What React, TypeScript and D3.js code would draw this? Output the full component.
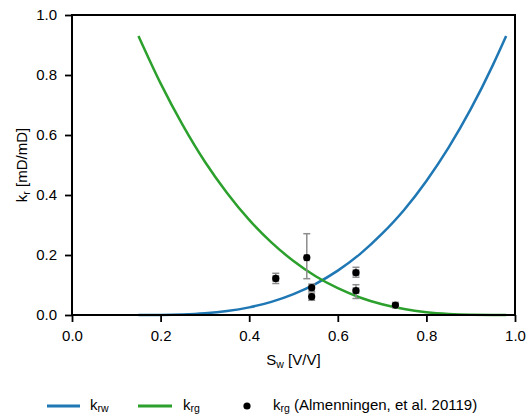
import React, { useRef, useEffect } from "react";
import * as d3 from "d3";

// curve samples
const swGrid = [0.15, 0.2, 0.25, 0.3, 0.35, 0.4, 0.45, 0.5, 0.55, 0.6, 0.65, 0.7, 0.75, 0.8, 0.85, 0.9, 0.95, 0.98];
const krwValues = [0, 0.0002, 0.0016, 0.0055, 0.013, 0.0254, 0.0439, 0.0697, 0.104, 0.148, 0.203, 0.271, 0.351, 0.447, 0.558, 0.686, 0.833, 0.93];
const krgValues = [0.93, 0.772, 0.633, 0.511, 0.407, 0.317, 0.242, 0.18, 0.129, 0.0892, 0.0585, 0.0357, 0.0198, 0.0095, 0.0036, 0.0008, 0.0001, 0];

// measured points (Almenningen)
const expSw = [0.46, 0.53, 0.541, 0.541, 0.641, 0.641, 0.73];
const expKrg = [0.122, 0.191, 0.091, 0.061, 0.141, 0.081, 0.033];
const expErrLow = [0.017, 0.07, 0.012, 0.012, 0.015, 0.026, 0.005];
const expErrHigh = [0.017, 0.08, 0.012, 0.012, 0.018, 0.02, 0.005];
const expSwErr = [0.006, 0.005, 0.005, 0.005, 0.006, 0.006, 0.006];

const ticks = [0, 0.2, 0.4, 0.6, 0.8, 1.0];

const App = () => {
  const svgRef = useRef<SVGSVGElement>(null);

  useEffect(() => {
    const width = 531;
    const height = 415;
    const margin = { top: 15, right: 16, bottom: 100, left: 72 };
    const font = "'Liberation Sans', Arial, sans-serif";
    const fs = 15;
    const subFs = 10.5;

    const svg = d3.select(svgRef.current).attr("width", width).attr("height", height);
    svg.selectAll("*").remove();

    const x = d3.scaleLinear().domain([0, 1]).range([margin.left, width - margin.right]);
    const y = d3.scaleLinear().domain([0, 1]).range([height - margin.bottom, margin.top]);

    // curves
    const line = d3
      .line<number>()
      .x((_, i) => x(swGrid[i]))
      .curve(d3.curveMonotoneX);

    svg
      .append("path")
      .attr("fill", "none")
      .attr("stroke", "#1f77b4")
      .attr("stroke-width", 2.5)
      .attr("d", line.y((d) => y(d))(krwValues));

    svg
      .append("path")
      .attr("fill", "none")
      .attr("stroke", "#2ca02c")
      .attr("stroke-width", 2.5)
      .attr("d", line.y((d) => y(d))(krgValues));

    // error bars
    const errColor = "#8c8c8c";
    const cap = 3.5;
    const eb = svg.append("g").attr("stroke", errColor).attr("stroke-width", 1.5);
    expSw.forEach((sw, i) => {
      const cx = x(sw);
      const cy = y(expKrg[i]);
      const y0 = y(expKrg[i] - expErrLow[i]);
      const y1 = y(expKrg[i] + expErrHigh[i]);
      const x0 = x(sw - expSwErr[i]);
      const x1 = x(sw + expSwErr[i]);
      eb.append("line").attr("x1", cx).attr("x2", cx).attr("y1", y0).attr("y2", y1);
      eb.append("line").attr("x1", cx - cap).attr("x2", cx + cap).attr("y1", y0).attr("y2", y0);
      eb.append("line").attr("x1", cx - cap).attr("x2", cx + cap).attr("y1", y1).attr("y2", y1);
      eb.append("line").attr("x1", x0).attr("x2", x1).attr("y1", cy).attr("y2", cy);
      eb.append("line").attr("x1", x0).attr("x2", x0).attr("y1", cy - cap).attr("y2", cy + cap);
      eb.append("line").attr("x1", x1).attr("x2", x1).attr("y1", cy - cap).attr("y2", cy + cap);
    });

    svg
      .append("g")
      .selectAll("circle")
      .data(expSw)
      .enter()
      .append("circle")
      .attr("cx", (d) => x(d))
      .attr("cy", (_, i) => y(expKrg[i]))
      .attr("r", 3.6)
      .attr("fill", "#000");

    // axes
    const xAxis = svg
      .append("g")
      .attr("transform", `translate(0,${height - margin.bottom})`)
      .call(d3.axisBottom(x).tickValues(ticks).tickFormat(d3.format(".1f")).tickSizeOuter(0).tickSize(7).tickPadding(8));
    const yAxis = svg
      .append("g")
      .attr("transform", `translate(${margin.left},0)`)
      .call(d3.axisLeft(y).tickValues(ticks).tickFormat(d3.format(".1f")).tickSizeOuter(0).tickSize(7).tickPadding(8));
    [xAxis, yAxis].forEach((a) => {
      a.select(".domain").remove();
      a.selectAll("line").attr("stroke", "#000").attr("stroke-width", 1.8);
      a.selectAll("text").attr("font-family", font).attr("font-size", fs).attr("fill", "#000");
    });

    svg
      .append("rect")
      .attr("x", x(0))
      .attr("y", y(1))
      .attr("width", x(1) - x(0))
      .attr("height", y(0) - y(1))
      .attr("fill", "none")
      .attr("stroke", "#000")
      .attr("stroke-width", 2);

    // axis labels
    const xl = svg
      .append("text")
      .attr("x", (x(0) + x(1)) / 2)
      .attr("y", 365)
      .attr("text-anchor", "middle")
      .attr("font-family", font)
      .attr("font-size", fs);
    xl.append("tspan").text("S");
    xl.append("tspan").attr("font-size", subFs).attr("dy", 3).text("w");
    xl.append("tspan").attr("dy", -3).text(" [V/V]");

    const yl = svg
      .append("text")
      .attr("transform", `translate(27,${(y(0) + y(1)) / 2}) rotate(-90)`)
      .attr("text-anchor", "middle")
      .attr("font-family", font)
      .attr("font-size", fs);
    yl.append("tspan").text("k");
    yl.append("tspan").attr("font-size", subFs).attr("dy", 3).text("r");
    yl.append("tspan").attr("dy", -3).text(" [mD/mD]");

    // legend
    const ly = 406;
    const legend = svg.append("g").attr("font-family", font).attr("font-size", fs);
    const addLabel = (lx: number, sub: string, rest: string) => {
      const t = legend.append("text").attr("x", lx).attr("y", ly + 4);
      t.append("tspan").text("k");
      t.append("tspan").attr("font-size", subFs).attr("dy", 2).text(sub);
      if (rest) t.append("tspan").attr("dy", -2).text(rest);
    };
    legend.append("line").attr("x1", 47).attr("x2", 80).attr("y1", ly).attr("y2", ly).attr("stroke", "#1f77b4").attr("stroke-width", 3);
    addLabel(90, "rw", "");
    legend.append("line").attr("x1", 138).attr("x2", 172).attr("y1", ly).attr("y2", ly).attr("stroke", "#2ca02c").attr("stroke-width", 3);
    addLabel(183, "rg", "");
    legend.append("circle").attr("cx", 247).attr("cy", ly).attr("r", 3.6).attr("fill", "#000");
    addLabel(273, "rg", " (Almenningen, et al. 20119)");
  }, []);

  return <svg ref={svgRef} style={{ position: "absolute", left: 0, top: 0 }}></svg>;
};

export default App;
